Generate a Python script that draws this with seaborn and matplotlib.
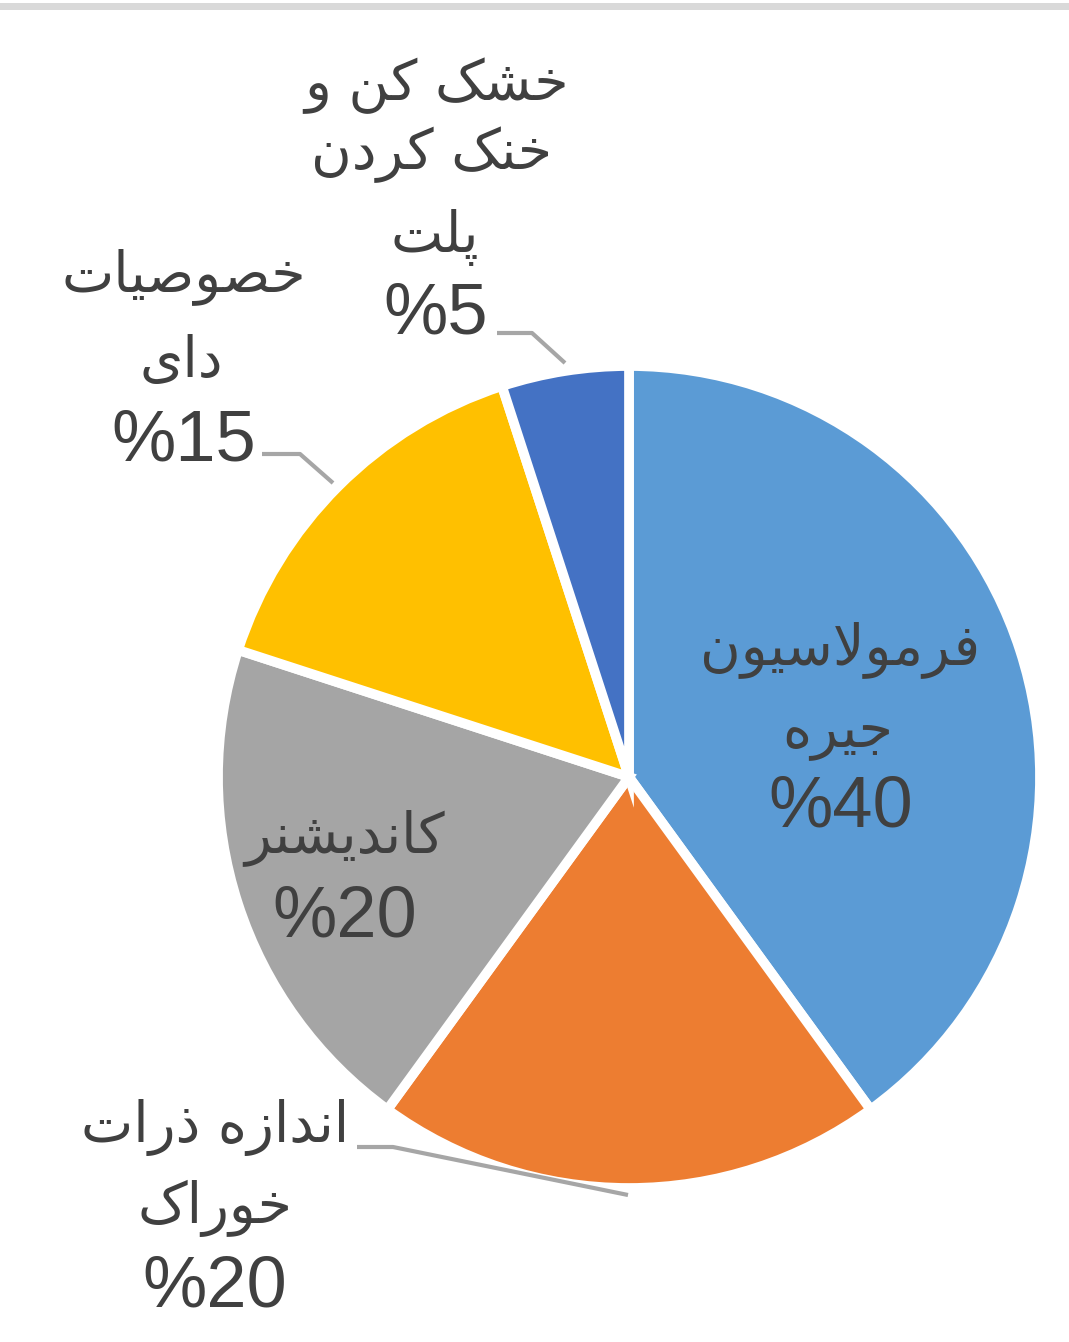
import matplotlib
matplotlib.use("Agg")
import matplotlib.pyplot as plt
import seaborn as sns

# ---------------- data ----------------
categories = ["فرمولاسیون جیره", "اندازه ذرات خوراک", "کاندیشنر",
              "خصوصیات دای", "خشک کن و خنک کردن پلت"]
label_lines = [["فرمولاسیون", "جیره"],
               ["اندازه ذرات", "خوراک"],
               ["کاندیشنر"],
               ["خصوصیات", "دای"],
               ["خشک کن و", "خنک کردن", "پلت"]]
values = [40, 20, 20, 15, 5]
colors = ["#5B9BD5", "#ED7D31", "#A5A5A5", "#FFC000", "#4472C4"]

# ---------------- minimal Arabic/Persian shaping ----------------
FORMS = {  # isolated, final, initial, medial
    "\u0627": ("\uFE8D", "\uFE8E", None, None),
    "\u0628": ("\uFE8F", "\uFE90", "\uFE91", "\uFE92"),
    "\u062A": ("\uFE95", "\uFE96", "\uFE97", "\uFE98"),
    "\u062C": ("\uFE9D", "\uFE9E", "\uFE9F", "\uFEA0"),
    "\u062E": ("\uFEA5", "\uFEA6", "\uFEA7", "\uFEA8"),
    "\u062F": ("\uFEA9", "\uFEAA", None, None),
    "\u0630": ("\uFEAB", "\uFEAC", None, None),
    "\u0631": ("\uFEAD", "\uFEAE", None, None),
    "\u0632": ("\uFEAF", "\uFEB0", None, None),
    "\u0633": ("\uFEB1", "\uFEB2", "\uFEB3", "\uFEB4"),
    "\u0634": ("\uFEB5", "\uFEB6", "\uFEB7", "\uFEB8"),
    "\u0635": ("\uFEB9", "\uFEBA", "\uFEBB", "\uFEBC"),
    "\u0641": ("\uFED1", "\uFED2", "\uFED3", "\uFED4"),
    "\u0644": ("\uFEDD", "\uFEDE", "\uFEDF", "\uFEE0"),
    "\u0645": ("\uFEE1", "\uFEE2", "\uFEE3", "\uFEE4"),
    "\u0646": ("\uFEE5", "\uFEE6", "\uFEE7", "\uFEE8"),
    "\u0647": ("\uFEE9", "\uFEEA", "\uFEEB", "\uFEEC"),
    "\u0648": ("\uFEED", "\uFEEE", None, None),
    "\u067E": ("\uFB56", "\uFB57", "\uFB58", "\uFB59"),
    "\u06A9": ("\uFB8E", "\uFB8F", "\uFB90", "\uFB91"),
    "\u06CC": ("\uFBFC", "\uFBFD", "\uFBFE", "\uFBFF"),
}


def dual(c):
    return c in FORMS and FORMS[c][2] is not None


def shape(text):
    out = []
    i = 0
    n = len(text)
    while i < n:
        c = text[i]
        if c not in FORMS:
            out.append(c)
            i += 1
            continue
        prev = text[i - 1] if i > 0 else " "
        prev_j = dual(prev)
        if c == "\u0644" and i + 1 < n and text[i + 1] == "\u0627":
            out.append("\uFEFC" if prev_j else "\uFEFB")
            i += 2
            continue
        nxt = text[i + 1] if i + 1 < n else " "
        next_j = nxt in FORMS
        iso, fin, ini, med = FORMS[c]
        if prev_j and next_j and med:
            g = med
        elif prev_j:
            g = fin
        elif next_j and ini:
            g = ini
        else:
            g = iso
        out.append(g)
        i += 1
    return "".join(out)[::-1]


# ---------------- figure ----------------
sns.set_theme(style="white")
plt.rcParams["font.family"] = ["Liberation Sans", "DejaVu Sans"]
palette = sns.color_palette(colors)

W, H = 1069, 1342
fig = plt.figure(figsize=(W / 100, H / 100), dpi=100)
fig.patch.set_facecolor("white")
ax = fig.add_axes([0, 0, 1, 1])

cx, cy, R = 629, H - 777, 411
ax.pie(values, colors=palette, startangle=90, counterclock=False,
       center=(cx, cy), radius=R,
       wedgeprops=dict(edgecolor="white", linewidth=7))
ax.set_xlim(0, W)
ax.set_ylim(0, H)
ax.set_aspect("equal")
ax.axis("off")

# top grey band
fig.add_artist(plt.Rectangle((0, 1 - 10 / H), 1, 7 / H, transform=fig.transFigure,
                             color="#d9d9d9", lw=0))

txt_color = "#404040"
fs = 40
pfs = 52

# label line positions (pixel centres)
line_pos = [
    [(840, 650), (838, 733)],
    [(215, 1128), (215, 1208)],
    [(345, 838)],
    [(184, 277), (181, 362)],
    [(437, 86), (432, 155), (435, 237)],
]
pct_pos = [(841, 808), (215, 1288), (345, 918), (184, 442), (436, 315)]

for lines, poss, v, pp in zip(label_lines, line_pos, values, pct_pos):
    for ln, (x, y) in zip(lines, poss):
        ax.text(x, H - y, shape(ln), ha="center", va="center",
                fontsize=fs, color=txt_color, family="DejaVu Sans")
    ax.text(pp[0], H - pp[1], f"%{v}", ha="center", va="center",
            fontsize=pfs, color=txt_color)

# leader lines
leaders = [
    [(357, 1147), (393, 1147), (628, 1195)],
    [(262, 454), (300, 454), (333, 483)],
    [(497, 333), (532, 333), (565, 363)],
]
for pts in leaders:
    xs = [p[0] for p in pts]
    ys = [H - p[1] for p in pts]
    ax.plot(xs, ys, color="#A6A6A6", lw=3, solid_capstyle="butt", zorder=5)

fig.savefig("out.png", dpi=100, facecolor="white")
